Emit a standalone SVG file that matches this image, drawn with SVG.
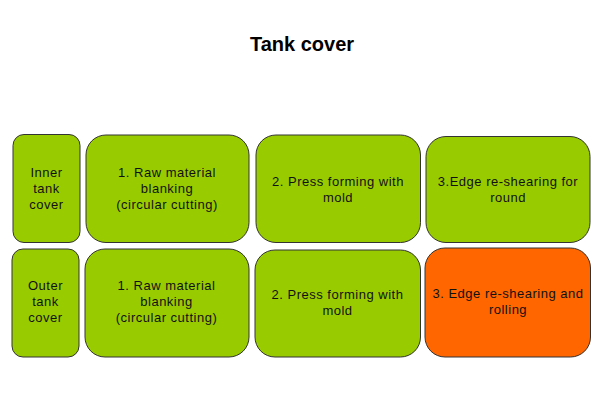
<svg xmlns="http://www.w3.org/2000/svg" width="600" height="400" viewBox="0 0 600 400">
<style>
.box{fill:#99CC00;stroke:#333333;stroke-width:1}
.hot{fill:#FF6600;stroke:#333333;stroke-width:1}
.t{font-family:"Liberation Sans",Arial,sans-serif;font-size:13px;letter-spacing:0.5px;fill:#111111;text-anchor:middle}
.title{font-family:"Liberation Sans",Arial,sans-serif;font-size:20px;font-weight:bold;fill:#000000;text-anchor:middle}
</style>
<rect x="0" y="0" width="600" height="400" fill="#ffffff"/>
<text class="title" x="302" y="51">Tank cover</text>
<g id="inner-label">
<rect class="box" x="13" y="134.5" width="67" height="108" rx="11"/>
<text class="t" x="46.5" y="176.5">Inner</text>
<text class="t" x="46.5" y="192.5">tank</text>
<text class="t" x="46.5" y="208.5">cover</text>
</g>
<g id="inner-step1">
<rect class="box" x="86" y="135" width="163" height="107.5" rx="20"/>
<text class="t" x="167" y="176.5">1. Raw material</text>
<text class="t" x="167" y="192.5">blanking</text>
<text class="t" x="167" y="208.5">(circular cutting)</text>
</g>
<g id="inner-step2">
<rect class="box" x="256" y="135" width="164.5" height="107.5" rx="20"/>
<text class="t" x="338" y="185.5">2. Press forming with</text>
<text class="t" x="338" y="201.5">mold</text>
</g>
<g id="inner-step3">
<rect class="box" x="426" y="136.5" width="164" height="106" rx="20"/>
<text class="t" x="508" y="186">3.Edge re-shearing for</text>
<text class="t" x="508" y="202">round</text>
</g>
<g id="outer-label">
<rect class="box" x="12" y="249" width="67" height="108" rx="11"/>
<text class="t" x="45.5" y="290">Outer</text>
<text class="t" x="45.5" y="306">tank</text>
<text class="t" x="45.5" y="322">cover</text>
</g>
<g id="outer-step1">
<rect class="box" x="85" y="249" width="164" height="108" rx="20"/>
<text class="t" x="166.5" y="290">1. Raw material</text>
<text class="t" x="166.5" y="306">blanking</text>
<text class="t" x="166.5" y="322">(circular cutting)</text>
</g>
<g id="outer-step2">
<rect class="box" x="255" y="250" width="165.5" height="107" rx="20"/>
<text class="t" x="337.5" y="298.5">2. Press forming with</text>
<text class="t" x="337.5" y="314.5">mold</text>
</g>
<g id="outer-step3">
<rect class="hot" x="425" y="248" width="165.5" height="109" rx="20"/>
<text class="t" x="508" y="297.5">3. Edge re-shearing and</text>
<text class="t" x="508" y="313.5">rolling</text>
</g>
<g id="connectors"></g>
</svg>
